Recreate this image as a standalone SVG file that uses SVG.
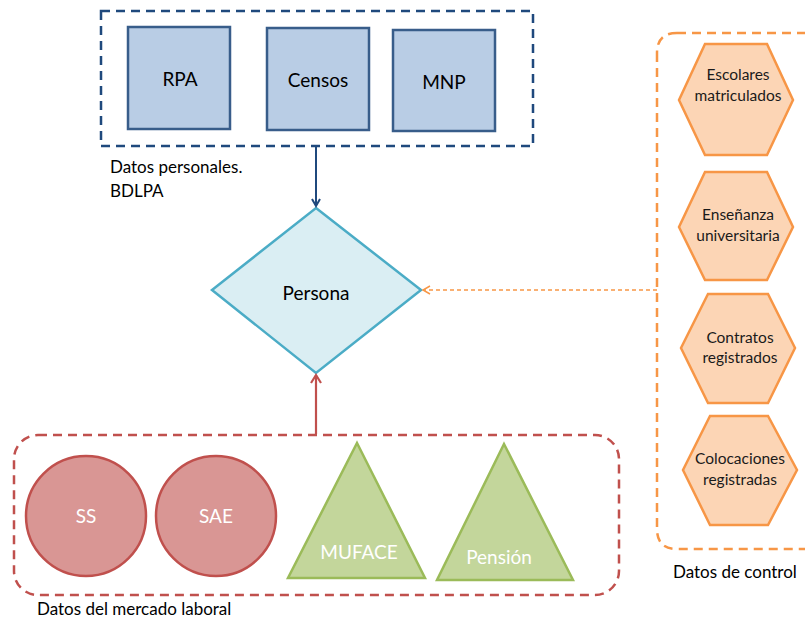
<svg xmlns="http://www.w3.org/2000/svg" width="805" height="621" viewBox="0 0 805 621">
<style>
text{font-family:Lato,"Liberation Sans",sans-serif;}
.lbl{font-size:17px;fill:#000;}
.blue{fill:#B9CDE5;stroke:#385D8A;stroke-width:2.5;}
.hex{fill:#FCD5B5;stroke:#F79646;stroke-width:2.5;}
.circ{fill:#D99694;stroke:#C0504D;stroke-width:2.5;}
.tri{fill:#C3D69B;stroke:#9BBB59;stroke-width:2.5;}
.ht{font-size:15.5px;fill:#1a1a1a;text-anchor:middle;}
.wt{font-size:19px;fill:#fff;text-anchor:middle;}
.bt{font-size:19px;fill:#000;text-anchor:middle;}
</style>
<defs>
<marker id="ab" markerWidth="10" markerHeight="10" refX="8" refY="5" orient="auto" markerUnits="userSpaceOnUse">
<path d="M1,1 L8,5 L1,9" fill="none" stroke="#1F497D" stroke-width="2"/>
</marker>
<marker id="ar" markerWidth="12" markerHeight="12" refX="9" refY="6" orient="auto" markerUnits="userSpaceOnUse">
<path d="M1,1 L9,6 L1,11" fill="none" stroke="#C0504D" stroke-width="2.2"/>
</marker>
<marker id="ao" markerWidth="10" markerHeight="10" refX="8" refY="5" orient="auto" markerUnits="userSpaceOnUse">
<path d="M1,1 L8,5 L1,9" fill="none" stroke="#F79646" stroke-width="1.5"/>
</marker>
</defs>

<g id="grupo-personales">
<rect x="101" y="11" width="432" height="135" fill="none" stroke="#1F497D" stroke-width="2.5" stroke-dasharray="9,6"/>
<text class="lbl" x="110" y="173">Datos personales.</text>
<text class="lbl" x="110" y="197">BDLPA</text>
</g>
<g id="rpa"><rect class="blue" x="128" y="27" width="102" height="102"/><text class="bt" x="180" y="86">RPA</text></g>
<g id="censos"><rect class="blue" x="267" y="28" width="102" height="102"/><text class="bt" x="318" y="87">Censos</text></g>
<g id="mnp"><rect class="blue" x="393" y="30" width="102" height="101"/><text class="bt" x="444" y="89">MNP</text></g>

<g id="persona">
<polygon points="316,208 421,290 316,373 212,290" fill="#DAEEF3" stroke="#4BACC6" stroke-width="2.5"/>
<text class="bt" x="316" y="300">Persona</text>
</g>

<g id="grupo-control">
<path d="M677,33 H812 M657,53 V529 Q657,549 677,549 H812 M677,33 Q657,33 657,53" fill="none" stroke="#F79646" stroke-width="2.5" stroke-dasharray="9,6"/>
<text class="lbl" x="673" y="578">Datos de control</text>
</g>
<g id="escolares"><polygon class="hex" points="679,100 705,44 767,44 793,100 767,155 705,155"/><text class="ht" x="738" y="80">Escolares</text><text class="ht" x="738" y="101">matriculados</text></g>
<g id="ensenanza"><polygon class="hex" points="679,227 705,172 767,172 793,227 767,280 705,280"/><text class="ht" x="738" y="220">Enseñanza</text><text class="ht" x="738" y="241">universitaria</text></g>
<g id="contratos"><polygon class="hex" points="681,348 708,294 768,294 795,348 768,403 708,403"/><text class="ht" x="740" y="343">Contratos</text><text class="ht" x="740" y="363">registrados</text></g>
<g id="colocaciones"><polygon class="hex" points="683,470 710,416 768,416 797,470 768,525 710,525"/><text class="ht" x="740" y="464">Colocaciones</text><text class="ht" x="740" y="485">registradas</text></g>

<g id="grupo-laboral">
<rect x="14" y="435" width="605" height="160" rx="24" ry="24" fill="none" stroke="#C0504D" stroke-width="2.5" stroke-dasharray="9,6"/>
<text class="lbl" x="37" y="615">Datos del mercado laboral</text>
</g>
<g id="ss"><circle class="circ" cx="86" cy="516" r="60"/><text class="wt" x="86" y="523">SS</text></g>
<g id="sae"><circle class="circ" cx="216" cy="516" r="60"/><text class="wt" x="216" y="523">SAE</text></g>
<g id="muface"><polygon class="tri" points="357,443 425,578 288,578"/><text class="wt" x="359" y="559">MUFACE</text></g>
<g id="pension"><polygon class="tri" points="504,444 573,580 437,580"/><text class="wt" x="499" y="564">Pensión</text></g>

<g id="conectores">
<line x1="316" y1="146" x2="316" y2="206" stroke="#1F497D" stroke-width="2" marker-end="url(#ab)"/>
<line x1="316" y1="434" x2="316" y2="375" stroke="#C0504D" stroke-width="2.2" marker-end="url(#ar)"/>
<line x1="657" y1="290" x2="423" y2="290" stroke="#F79646" stroke-width="1.5" stroke-dasharray="4,3" marker-end="url(#ao)"/>
</g>
</svg>
